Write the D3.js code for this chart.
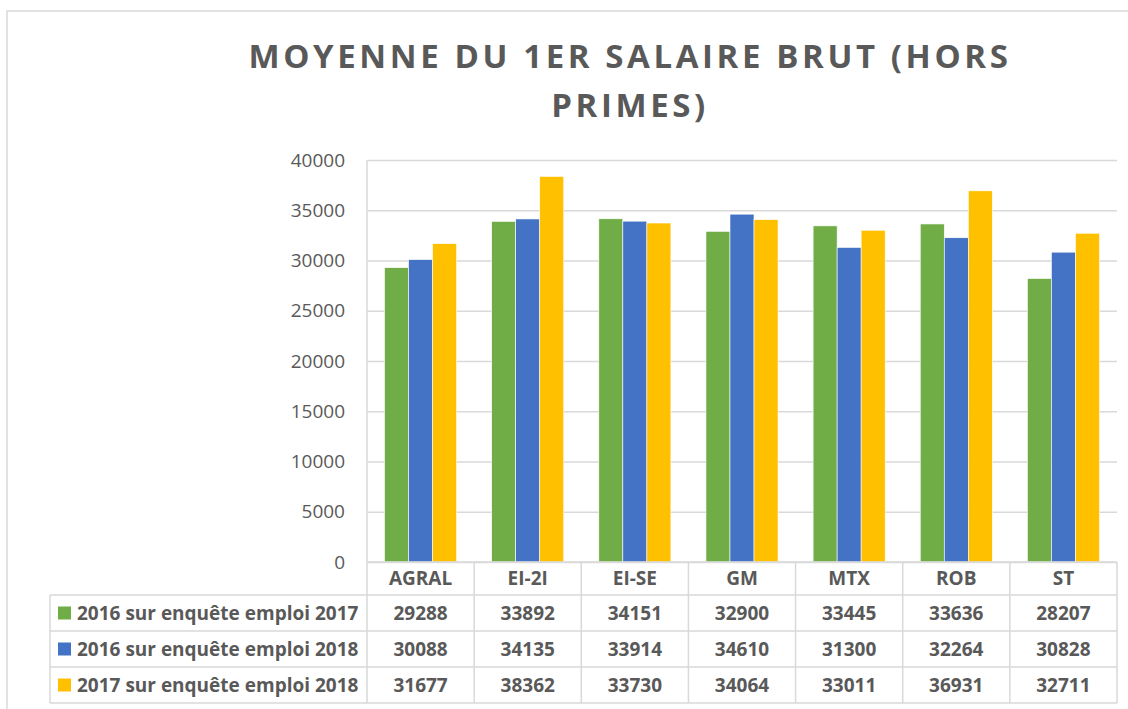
<!DOCTYPE html>
<html>
<head>
<meta charset="utf-8">
<script src="https://cdn.jsdelivr.net/npm/d3@7"></script>
<style>
body { margin: 0; background: #fff; }
text { font-family: "Open Sans", sans-serif; fill: #595959; }
</style>
</head>
<body>
<div class="canvas"></div>
<script>
// data
var categories = ['AGRAL', 'EI-2I', 'EI-SE', 'GM', 'MTX', 'ROB', 'ST'];
var seriesNames = ['2016 sur enquête emploi 2017', '2016 sur enquête emploi 2018', '2017 sur enquête emploi 2018'];
var values2016_2017 = [29288, 33892, 34151, 32900, 33445, 33636, 28207];
var values2016_2018 = [30088, 34135, 33914, 34610, 31300, 32264, 30828];
var values2017_2018 = [31677, 38362, 33730, 34064, 33011, 36931, 32711];
var yTicks = [0, 5000, 10000, 15000, 20000, 25000, 30000, 35000, 40000];
var titleLines = ['MOYENNE DU 1ER SALAIRE BRUT (HORS', 'PRIMES)'];

var series = [values2016_2017, values2016_2018, values2017_2018];
var colors = ['#70AD47', '#4472C4', '#FFC000'];
var gridColor = '#d9d9d9';

var width = 1128,
    height = 709,
    plot = { left: 367, right: 1117, top: 160, bottom: 562 },
    tableLeft = 50,
    catRowH = 33,
    rowH = 36;

var svg = d3.select('.canvas').append('svg')
    .attr('width', width)
    .attr('height', height);

// chart border (only top and left show)
svg.append('path')
    .attr('d', 'M7,' + height + 'V11H' + width)
    .attr('fill', 'none')
    .attr('stroke', gridColor)
    .attr('stroke-width', 1.5);

// title
svg.append('g').selectAll('text')
    .data(titleLines)
    .enter().append('text')
    .attr('x', 630)
    .attr('y', function (d, i) { return 68 + i * 49; })
    .attr('text-anchor', 'middle')
    .style('font-size', '33px')
    .style('font-weight', 'bold')
    .style('letter-spacing', '3.6px')
    .text(function (d) { return d; });

var x0 = d3.scaleBand()
    .domain(categories)
    .range([plot.left, plot.right]);

var x1 = d3.scaleBand()
    .domain([0, 1, 2])
    .range([0, x0.bandwidth()])
    .paddingOuter(0.73);

var y = d3.scaleLinear()
    .domain([0, 40000])
    .range([plot.bottom, plot.top]);

// gridlines
var grid = svg.append('g')
    .attr('transform', 'translate(' + plot.left + ',0)')
    .call(d3.axisLeft(y).tickValues(yTicks).tickSize(-(plot.right - plot.left)).tickFormat(''));
grid.select('.domain').remove();
grid.selectAll('line').attr('stroke', gridColor).attr('stroke-width', 1.5);

// y labels
var yAxis = svg.append('g')
    .attr('transform', 'translate(345,0)')
    .call(d3.axisLeft(y).tickValues(yTicks).tickSize(0).tickPadding(0).tickFormat(d3.format('d')));
yAxis.select('.domain').remove();
yAxis.selectAll('text')
    .style('font-family', '"Open Sans", sans-serif')
    .style('font-size', '19px')
    .attr('fill', '#595959');

// left edge of plot
svg.append('line')
    .attr('x1', plot.left).attr('x2', plot.left)
    .attr('y1', plot.top).attr('y2', plot.bottom)
    .attr('stroke', gridColor).attr('stroke-width', 1.5);

// bars
svg.append('g').selectAll('g')
    .data(series)
    .enter().append('g')
    .attr('fill', function (d, i) { return colors[i]; })
    .each(function (vals, si) {
        d3.select(this).selectAll('rect')
            .data(vals)
            .enter().append('rect')
            .attr('x', function (d, i) { return x0(categories[i]) + x1(si); })
            .attr('width', x1.bandwidth())
            .attr('y', function (d) { return y(d); })
            .attr('height', function (d) { return y(0) - y(d); })
            .attr('stroke', '#fff')
            .attr('stroke-width', 0.6);
    });

// data table
var table = svg.append('g');
var rowTop = plot.bottom + catRowH;
var tableBottom = rowTop + rowH * series.length;

table.selectAll('.hline')
    .data(d3.range(series.length + 1))
    .enter().append('line')
    .attr('x1', tableLeft).attr('x2', plot.right)
    .attr('y1', function (d) { return rowTop + d * rowH; })
    .attr('y2', function (d) { return rowTop + d * rowH; })
    .attr('stroke', gridColor).attr('stroke-width', 1.5);

table.append('line')
    .attr('x1', plot.left).attr('x2', plot.right)
    .attr('y1', plot.bottom).attr('y2', plot.bottom)
    .attr('stroke', gridColor).attr('stroke-width', 1.5);

table.selectAll('.vline')
    .data(categories.concat(['end']))
    .enter().append('line')
    .attr('x1', function (d, i) { return plot.left + i * x0.step(); })
    .attr('x2', function (d, i) { return plot.left + i * x0.step(); })
    .attr('y1', plot.bottom).attr('y2', tableBottom)
    .attr('stroke', gridColor).attr('stroke-width', 1.5);

table.append('line')
    .attr('x1', tableLeft).attr('x2', tableLeft)
    .attr('y1', rowTop).attr('y2', tableBottom)
    .attr('stroke', gridColor).attr('stroke-width', 1.5);

// category row
table.selectAll('.cat')
    .data(categories)
    .enter().append('text')
    .attr('x', function (d) { return x0(d) + x0.bandwidth() / 2; })
    .attr('y', plot.bottom + catRowH / 2)
    .attr('dy', '0.35em')
    .attr('text-anchor', 'middle')
    .style('font-size', '19px')
    .style('font-weight', 'bold')
    .text(function (d) { return d; });

// series rows
series.forEach(function (vals, si) {
    var cy = rowTop + si * rowH + rowH / 2;
    table.append('rect')
        .attr('x', 58).attr('y', cy - 6.5)
        .attr('width', 13).attr('height', 13)
        .attr('fill', colors[si]);
    table.append('text')
        .attr('x', 77).attr('y', cy)
        .attr('dy', '0.35em')
        .style('font-size', '19px')
        .style('font-weight', 'bold')
        .text(seriesNames[si]);
    table.selectAll('.v' + si)
        .data(vals)
        .enter().append('text')
        .attr('x', function (d, i) { return x0(categories[i]) + x0.bandwidth() / 2; })
        .attr('y', cy)
        .attr('dy', '0.35em')
        .attr('text-anchor', 'middle')
        .style('font-size', '19px')
        .style('font-weight', 'bold')
        .text(function (d) { return d; });
});
</script>
</body>
</html>
